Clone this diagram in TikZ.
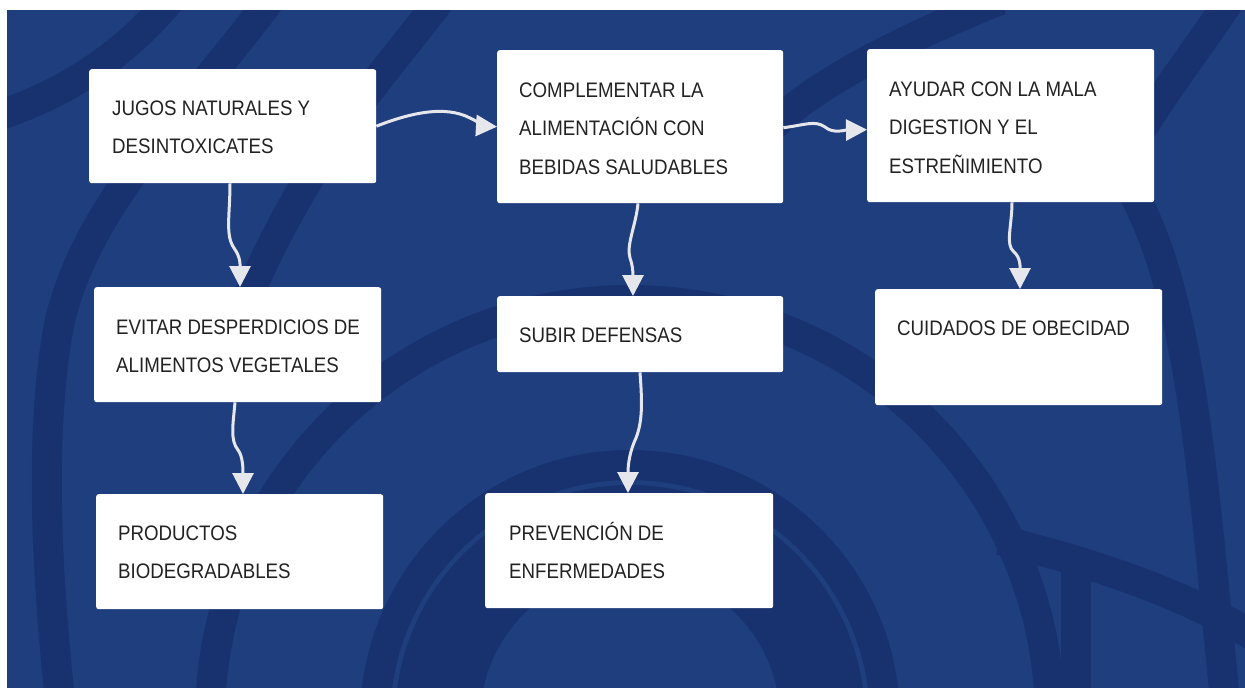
\documentclass[tikz,border=0pt]{standalone}
\usepackage{fontspec}
\setmainfont{Liberation Sans}[FakeStretch=0.89]
\usetikzlibrary{arrows.meta,calc}
\definecolor{bgblue}{HTML}{1F3E7E}
\definecolor{darkband}{HTML}{17326E}
\definecolor{arrowc}{HTML}{E6E7EC}
\definecolor{textc}{HTML}{222222}
\tikzset{
  box/.style={fill=white, draw=none, rounded corners=2.5pt, inner sep=0pt, anchor=north west},
  txt/.style={anchor=north west, inner sep=0pt, align=left, text=textc,
    font=\fontsize{21}{38.5}\selectfont},
  link/.style={draw=arrowc, line width=3pt, -{Triangle[length=21pt,width=21pt]}},
  band/.style={draw=darkband, line width=30pt},
}
\newcommand{\st}{\rule{0pt}{20pt}}
\begin{document}
\begin{tikzpicture}[x=1pt,y=-1pt]
\useasboundingbox (0,0) rectangle (1245,688);
\fill[white] (0,0) rectangle (1245,688);
\begin{scope}
\clip (7,10) rectangle (1245,688);
\fill[bgblue] (7,10) rectangle (1245,688);
% background decorative arcs
\draw[band] (170,0) .. controls (120,60) and (60,95) .. (0,115);
\draw[band] (270,0) .. controls (180,120) and (90,200) .. (60,320) .. controls (40,420) and (45,560) .. (60,700);
\draw[band] (440,0) .. controls (380,80) and (300,160) .. (230,340);
\draw[band] (630,720) circle[radius=255];
\draw[band] (630,720) circle[radius=420];
\fill[darkband] (630,720) circle[radius=235];
\fill[bgblue] (630,720) circle[radius=150];
\draw[band] (1230,0) .. controls (1190,60) and (1150,110) .. (1130,150);
\draw[band] (1120,170) .. controls (1190,280) and (1200,450) .. (1225,700);
\draw[band] (1000,540) .. controls (1080,560) and (1180,590) .. (1260,640);
\draw[band] (1076,700) -- (1076,570);
\draw[band] (1000,0) .. controls (900,40) and (800,90) .. (760,140);
\end{scope}
% boxes
\node[box, minimum width=287pt, minimum height=114pt] (jugos) at (89,69) {};
\node[box, minimum width=286pt, minimum height=153pt] (comp) at (497,50) {};
\node[box, minimum width=287pt, minimum height=153pt] (ayudar) at (867,49) {};
\node[box, minimum width=287pt, minimum height=115pt] (evitar) at (94,287) {};
\node[box, minimum width=286pt, minimum height=76pt] (subir) at (497,296) {};
\node[box, minimum width=287pt, minimum height=116pt] (cuid) at (875,289) {};
\node[box, minimum width=287pt, minimum height=115pt] (prod) at (96,494) {};
\node[box, minimum width=288pt, minimum height=115pt] (prev) at (485,493) {};
% texts
\node[txt] (tjugos) at (112,95) {\st JUGOS NATURALES Y\\DESINTOXICATES};
\node[txt] (tcomp) at (519,77) {\st COMPLEMENTAR LA\\ALIMENTACIÓN CON\\BEBIDAS SALUDABLES};
\node[txt] (tayudar) at (889,76) {\st AYUDAR CON LA MALA\\DIGESTION Y EL\\ESTREÑIMIENTO};
\node[txt] (tevitar) at (116,314) {\st EVITAR DESPERDICIOS DE\\ALIMENTOS VEGETALES};
\node[txt] (tsubir) at (519,322) {\st SUBIR DEFENSAS};
\node[txt] (tcuid) at (897,315) {\st CUIDADOS DE OBECIDAD};
\node[txt] (tprod) at (118,520) {\st PRODUCTOS\\BIODEGRADABLES};
\node[txt] (tprev) at (509,520) {\st PREVENCIÓN DE\\ENFERMEDADES};
% connectors
\draw[link] (jugos.east) .. controls (410,113) and (445,105) .. (470,118) .. controls (480,123) and (485,126) .. (comp.west);
\draw[link] ($(comp.east)+(0,1)$) .. controls (805,125) and (815,120) .. (825,127) .. controls (833,134) and (845,130) .. ($(ayudar.west)+(0,4)$);
\draw[link] ($(jugos.south west)+(141,0)$) .. controls (230,215) and (225,235) .. (234,248) .. controls (241,258) and (240,265) .. ($(evitar.north west)+(146,0)$);
\draw[link] ($(evitar.south west)+(141,0)$) .. controls (233,425) and (230,440) .. (238,450) .. controls (243,456) and (243,470) .. ($(prod.north west)+(147,0)$);
\draw[link] ($(comp.south west)+(141,0)$) .. controls (636,225) and (626,245) .. (630,258) .. controls (633,266) and (633,275) .. ($(subir.north west)+(136,0)$);
\draw[link] ($(subir.south west)+(143,0)$) .. controls (642,400) and (643,420) .. (636,438) .. controls (628,455) and (628,470) .. ($(prev.north west)+(143,0)$);
\draw[link] ($(ayudar.south west)+(145,0)$) .. controls (1012,225) and (1005,245) .. (1014,252) .. controls (1021,258) and (1020,268) .. ($(cuid.north west)+(145,0)$);
\end{tikzpicture}
\end{document}
